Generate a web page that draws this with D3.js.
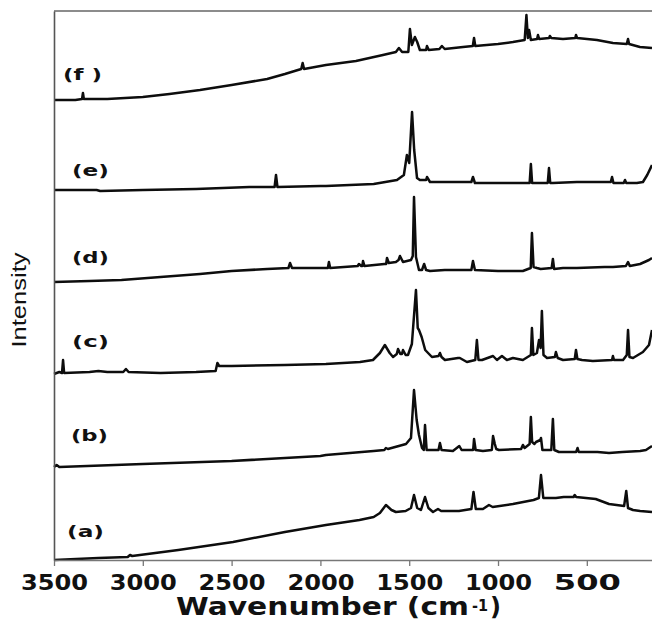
<!DOCTYPE html>
<html>
<head>
<meta charset="utf-8">
<script src="https://cdn.jsdelivr.net/npm/d3@7/dist/d3.min.js"></script>
<style>
  body { margin: 0; background: #fff; }
  svg { display: block; }
</style>
</head>
<body>
<div id="canvas"></div>
<script>
/* global d3 */
(function() {
  'use strict';

  // spectra: [wavenumber (cm-1), intensity (a.u., stacked)]
  const spectrumA = [
    [3500, 0], [3250, 2], [3085, 3], [3072, 5], [3060, 4], [2800, 10], [2492, 18], [2200, 28],
    [1969, 35], [1780, 40], [1700, 43], [1665, 47], [1631, 55], [1600, 50], [1575, 48],
    [1520, 49], [1490, 52], [1473, 65], [1455, 52], [1434, 50], [1411, 63], [1392, 52],
    [1366, 48], [1338, 51], [1320, 49], [1220, 49], [1150, 51], [1138, 68], [1125, 51],
    [1085, 51], [1051, 55], [1030, 53], [916, 56], [800, 60], [770, 62], [758, 85],
    [745, 62], [674, 62], [630, 63], [575, 63], [568, 65], [560, 63], [450, 61], [375, 56],
    [290, 54], [278, 69], [268, 52], [240, 50], [200, 49], [133, 48]
  ];
  const spectrumB = [
    [3500, 93], [3485, 95], [3470, 93], [3000, 96], [2500, 99], [2000, 104], [1969, 105],
    [1700, 109], [1640, 110], [1631, 112], [1620, 111], [1518, 116], [1490, 122], [1473, 170],
    [1458, 140], [1445, 125], [1428, 112], [1418, 110], [1411, 135], [1402, 110], [1389, 110],
    [1335, 110], [1327, 117], [1318, 110], [1254, 109], [1218, 114], [1205, 110], [1140, 110],
    [1135, 121], [1126, 110], [1085, 109], [1035, 110], [1028, 124], [1018, 116], [1010, 111],
    [995, 110], [870, 111], [860, 115], [850, 112], [822, 116], [815, 143], [808, 118],
    [795, 116], [786, 118], [762, 120], [758, 122], [750, 110], [700, 110], [691, 141],
    [683, 110], [657, 108], [560, 108], [552, 112], [545, 108], [440, 108], [375, 107],
    [300, 108], [200, 109], [167, 110], [150, 112], [133, 114]
  ];
  const spectrumC = [
    [3500, 186], [3470, 188], [3455, 187], [3449, 200], [3443, 187], [3300, 188], [3250, 189],
    [3200, 188], [3110, 188], [3095, 191], [3080, 188], [2900, 187], [2700, 188], [2590, 189],
    [2580, 197], [2570, 194], [2500, 194], [2200, 195], [1969, 196], [1777, 198], [1704, 200],
    [1665, 207], [1637, 215], [1610, 207], [1591, 203], [1570, 206], [1563, 211], [1550, 206],
    [1541, 206], [1535, 210], [1520, 205], [1507, 205], [1485, 216], [1462, 270], [1452, 232],
    [1445, 230], [1430, 223], [1410, 210], [1372, 203], [1335, 204], [1327, 207], [1318, 203],
    [1299, 200], [1225, 202], [1215, 202], [1175, 198], [1128, 200], [1119, 220], [1110, 200],
    [1090, 200], [1028, 204], [1006, 200], [978, 204], [950, 200], [916, 202], [860, 200],
    [815, 205], [809, 232], [801, 205], [781, 207], [769, 220], [760, 212], [753, 249],
    [744, 205], [724, 202], [680, 203], [674, 208], [664, 202], [634, 200], [568, 201],
    [561, 210], [553, 201], [527, 200], [466, 199], [358, 200], [353, 204], [347, 200],
    [296, 200], [275, 205], [268, 230], [260, 203], [240, 202], [184, 208], [150, 215],
    [133, 230]
  ];
  const spectrumD = [
    [3500, 278], [3300, 279], [3120, 280], [2900, 283], [2678, 286], [2500, 289], [2300, 291],
    [2180, 292], [2171, 297], [2160, 292], [1969, 292], [1958, 292], [1952, 298], [1945, 292],
    [1790, 294], [1783, 296], [1770, 294], [1764, 294], [1760, 299], [1752, 294], [1640, 296],
    [1630, 296], [1625, 302], [1615, 297], [1575, 298], [1560, 300], [1552, 304], [1535, 298],
    [1490, 300], [1480, 304], [1473, 363], [1462, 303], [1445, 290], [1428, 290], [1416, 296],
    [1405, 290], [1383, 289], [1300, 290], [1150, 290], [1141, 299], [1130, 290], [1000, 289],
    [860, 289], [816, 292], [809, 327], [800, 293], [781, 292], [760, 291], [698, 292],
    [691, 301], [684, 291], [634, 292], [556, 292], [400, 293], [353, 293], [280, 294],
    [268, 298], [258, 294], [200, 296], [150, 300], [133, 302]
  ];
  const spectrumE = [
    [3500, 370], [3300, 370], [3260, 370], [3240, 369], [3000, 370], [2700, 371], [2400, 373],
    [2258, 373], [2250, 385], [2242, 373], [2000, 374], [1969, 374], [1700, 376], [1569, 380],
    [1530, 385], [1513, 405], [1500, 397], [1484, 448], [1472, 410], [1456, 382], [1440, 380],
    [1405, 380], [1400, 383], [1383, 378], [1300, 378], [1150, 378], [1141, 383], [1130, 377],
    [1085, 377], [860, 377], [822, 377], [815, 396], [808, 377], [792, 377], [720, 377],
    [713, 392], [706, 377], [691, 377], [556, 378], [365, 378], [358, 383], [350, 377],
    [292, 377], [285, 380], [278, 377], [218, 377], [184, 378], [160, 385], [133, 395]
  ];
  const spectrumF = [
    [3500, 460], [3380, 460], [3342, 461], [3337, 467], [3332, 461], [3200, 461], [3100, 462],
    [3000, 463], [2850, 466], [2678, 470], [2500, 475], [2300, 481], [2200, 486], [2108, 491],
    [2100, 497], [2092, 491], [1969, 495], [1800, 499], [1648, 505], [1575, 508], [1558, 512],
    [1540, 508], [1505, 508], [1496, 531], [1485, 515], [1468, 523], [1455, 518], [1440, 510],
    [1405, 510], [1400, 514], [1390, 510], [1330, 511], [1316, 514], [1300, 511], [1197, 513],
    [1142, 514], [1135, 522], [1128, 514], [1000, 516], [916, 518], [850, 520], [840, 545],
    [832, 522], [825, 530], [815, 520], [780, 521], [775, 525], [768, 521], [712, 522],
    [708, 524], [700, 522], [634, 521], [565, 522], [561, 525], [555, 522], [443, 520],
    [353, 517], [275, 516], [268, 521], [262, 516], [201, 513], [133, 512]
  ];

  const spectra = [spectrumA, spectrumB, spectrumC, spectrumD, spectrumE, spectrumF];
  const labels = ['(a)', '(b)', '(c)', '(d)', '(e)', '(f )'];
  const xTicks = [3500, 3000, 2500, 2000, 1500, 1000, 500];

  const w = 652;
  const h = 625;
  const left = 54;
  const top = 11;
  const bottom = 560;

  const xScale =
    d3.scaleLinear()
      .domain([3500, 133])
      .range([left, w]);

  const yScale =
    d3.scaleLinear()
      .domain([0, 549])
      .range([bottom, top]);

  const svg =
    d3.select('#canvas')
      .append('svg')
      .attr('width', w)
      .attr('height', h);

  // top frame line
  svg.append('line')
    .attr('x1', left)
    .attr('x2', w)
    .attr('y1', top)
    .attr('y2', top)
    .attr('stroke', '#8c8c8c')
    .attr('stroke-width', 2);

  // spectra
  const line = d3.line()
    .x((d) => xScale(d[0]))
    .y((d) => yScale(d[1]));

  svg.selectAll('path.spectrum')
    .data(spectra)
    .enter()
    .append('path')
    .attr('class', 'spectrum')
    .attr('d', line)
    .attr('fill', 'none')
    .attr('stroke', '#0d0d0d')
    .attr('stroke-width', 2.5)
    .attr('stroke-linejoin', 'round');

  // trace labels, placed above each baseline
  const labelPos = [[67, 537], [71, 441], [72, 347], [72, 263], [72, 176], [63, 80]];
  svg.selectAll('text.label')
    .data(labels)
    .enter()
    .append('text')
    .attr('class', 'label')
    .attr('x', (d, i) => labelPos[i][0])
    .attr('y', (d, i) => labelPos[i][1])
    .attr('textLength', (d, i) => i === 5 ? 39 : 37)
    .attr('lengthAdjust', 'spacingAndGlyphs')
    .style('font-family', 'DejaVu Sans, sans-serif')
    .style('font-weight', 'bold')
    .style('font-size', '15px')
    .style('fill', '#111')
    .text((d) => d);

  // axes
  const xAxis = d3.axisBottom(xScale)
    .tickValues(xTicks)
    .tickSize(6)
    .tickSizeOuter(0)
    .tickPadding(10)
    .tickFormat(d3.format('d'));

  const gx = svg.append('g')
    .attr('id', 'x-axis')
    .attr('transform', 'translate(0,' + bottom + ')')
    .call(xAxis);
  gx.select('.domain')
    .attr('stroke', '#777')
    .attr('stroke-width', 1.6);
  gx.selectAll('.tick line')
    .attr('stroke', '#777')
    .attr('stroke-width', 1.3);
  gx.selectAll('.tick text')
    .attr('dy', 0)
    .attr('y', 30)
    .attr('textLength', 67)
    .attr('lengthAdjust', 'spacingAndGlyphs')
    .style('font-family', 'DejaVu Sans, sans-serif')
    .style('font-weight', 'bold')
    .style('font-size', '21px')
    .style('fill', '#111');

  const yAxis = d3.axisLeft(yScale).tickValues([]).tickSizeOuter(0);
  svg.append('g')
    .attr('id', 'y-axis')
    .attr('transform', 'translate(' + left + ',0)')
    .call(yAxis)
    .select('.domain')
    .attr('stroke', '#555')
    .attr('stroke-width', 1.6);

  // axis titles
  const title = svg.append('g')
    .style('font-family', 'DejaVu Sans, sans-serif')
    .style('font-weight', 'bold')
    .style('fill', '#111');
  title.append('text')
    .attr('x', 176)
    .attr('y', 615)
    .attr('textLength', 293)
    .attr('lengthAdjust', 'spacingAndGlyphs')
    .style('font-size', '24px')
    .text('Wavenumber (cm');
  title.append('text')
    .attr('x', 472)
    .attr('y', 611)
    .attr('textLength', 16)
    .attr('lengthAdjust', 'spacingAndGlyphs')
    .style('font-size', '15px')
    .text('-1');
  title.append('text')
    .attr('x', 490)
    .attr('y', 615)
    .attr('textLength', 11)
    .attr('lengthAdjust', 'spacingAndGlyphs')
    .style('font-size', '24px')
    .text(')');

  svg.append('text')
    .attr('transform', 'translate(26,300) rotate(-90)')
    .attr('text-anchor', 'middle')
    .attr('textLength', 95)
    .attr('lengthAdjust', 'spacingAndGlyphs')
    .style('font-family', 'Liberation Sans Narrow, Liberation Sans, sans-serif')
    .style('font-size', '20px')
    .style('fill', '#111')
    .text('Intensity');
}());
</script>
</body>
</html>
